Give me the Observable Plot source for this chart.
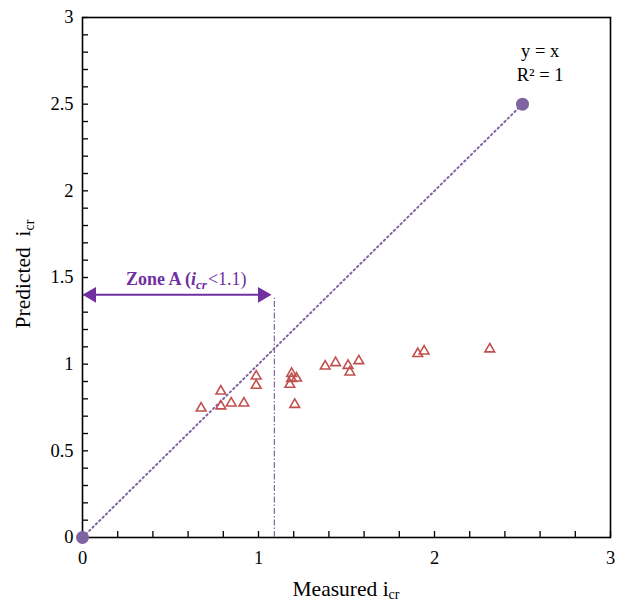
<!DOCTYPE html>
<html><head><meta charset="utf-8">
<script src="https://cdn.jsdelivr.net/npm/d3@7"></script>
<script src="https://cdn.jsdelivr.net/npm/@observablehq/plot@0.6"></script>
<style>body{margin:0;background:#fff;}</style>
</head><body><div id="chart"></div>
<script>
const measured  = [0.674,0.786,0.786,0.845,0.917,0.987,0.987,1.188,1.188,1.178,1.216,1.206,1.379,1.438,1.509,1.519,1.570,1.905,1.941,2.314];
const predicted = [0.746,0.844,0.758,0.775,0.775,0.931,0.877,0.946,0.916,0.883,0.919,0.767,0.988,1.008,0.992,0.954,1.019,1.060,1.075,1.087];
const lineX = [0, 2.5];
const lineY = [0, 2.5];
const xMajor = [0, 1, 2, 3];
const xMinor = [0,0.2,0.4,0.6,0.8,1,1.2,1.4,1.6,1.8,2,2.2,2.4,2.6,2.8,3];
const yMajor = [0, 0.5, 1, 1.5, 2, 2.5, 3];
const yMinor = [0,0.1,0.2,0.3,0.4,0.5,0.6,0.7,0.8,0.9,1,1.1,1.2,1.3,1.4,1.5,1.6,1.7,1.8,1.9,2,2.1,2.2,2.3,2.4,2.5,2.6,2.7,2.8,2.9,3];
const zoneX = 1.09;
const zoneTop = 1.38;
const arrowY = 1.4;
const arrowStart = 0;
const arrowEnd = 1.074;
const eqText = "y = x\nR² = 1";
const eqX = 2.6, eqY = 2.75;
const zoneLabelX = 0.25, zoneLabelY = 1.454;

const serif = "'Liberation Serif', 'Times New Roman', serif";
const purple = "#8064a2";
const darkPurple = "#7030a0";
const red = "#c0504d";

const pts = measured.map((m, i) => ({m, p: predicted[i]}));
const line = lineX.map((x, i) => ({x, y: lineY[i]}));
const fmt = d => String(d);

const plot = Plot.plot({
  width: 618, height: 607,
  marginLeft: 82, marginRight: 8, marginTop: 17, marginBottom: 70,
  style: "font-family: 'Liberation Serif', 'Times New Roman', serif; font-size: 18px; color: black; background: white; overflow: visible;",
  x: {domain: [0, 3]},
  y: {domain: [0, 3]},
  marks: [
    Plot.axisX(xMinor, {tickSize: -6, tickFormat: () => "", strokeWidth: 1.3, label: null}),
    Plot.axisX(xMajor, {tickSize: 0, tickPadding: 13, label: null, fontSize: 18.5, tickFormat: fmt, fill: "black"}),
    Plot.axisY(yMinor, {tickSize: -6, tickFormat: () => "", strokeWidth: 1.3, label: null}),
    Plot.axisY(yMajor, {tickSize: 0, tickPadding: 9, label: null, fontSize: 18.5, tickFormat: fmt, fill: "black"}),
    Plot.frame({stroke: "black", strokeWidth: 1.6}),
    Plot.line(line, {x: "x", y: "y", stroke: purple, strokeWidth: 2, strokeDasharray: "1.5,3.2"}),
    Plot.ruleX([zoneX], {y1: 0, y2: zoneTop, stroke: purple, strokeWidth: 1.2, strokeDasharray: "6,2,1.5,2"}),
    Plot.ruleY([arrowY], {x1: arrowStart, x2: arrowEnd, stroke: darkPurple, strokeWidth: 2, insetLeft: 8, insetRight: 8}),
    Plot.dot([arrowStart], {x: d => d, y: () => arrowY, symbol: "triangle", r: 5.8, fill: darkPurple, rotate: -90, dx: 9}),
    Plot.dot([arrowEnd], {x: d => d, y: () => arrowY, symbol: "triangle", r: 5.8, fill: darkPurple, rotate: 90, dx: -9}),
    Plot.dot(line, {x: "x", y: "y", r: 6.5, fill: purple}),
    Plot.dot(pts, {x: "m", y: "p", symbol: "triangle", r: 3.6, stroke: red, strokeWidth: 1.6, fill: "none"}),
    Plot.text([eqText], {x: () => eqX, y: () => eqY, text: d => d, fontSize: 18.5, lineHeight: 1.3, fill: "black", textAnchor: "middle"})
  ]
});

const svg = d3.select(plot);
svg.selectAll("text").style("font-family", serif);
const sx = plot.scale("x"), sy = plot.scale("y");

// Zone A label
const zt = svg.append("text")
  .attr("x", sx.apply(zoneLabelX)).attr("y", sy.apply(zoneLabelY))
  .attr("text-anchor", "start")
  .attr("fill", darkPurple)
  .style("font-family", serif).style("font-size", "18px");
zt.append("tspan").attr("font-weight", "bold").text("Zone A (");
zt.append("tspan").attr("font-weight", "bold").attr("font-style", "italic").text("i");
zt.append("tspan").attr("font-weight", "bold").attr("font-style", "italic").attr("font-size", "13px").attr("dy", 4).text("cr");
zt.append("tspan").attr("dy", -4).attr("dx", 1).text("<1.1)");

// X axis label
const xl = svg.append("text")
  .attr("x", 346).attr("y", 596)
  .attr("text-anchor", "middle")
  .style("font-family", serif).style("font-size", "21.5px").attr("fill", "black");
xl.append("tspan").text("Measured i");
xl.append("tspan").attr("font-size", "14px").attr("dy", 3).text("cr");

// Y axis label
const yl = svg.append("text")
  .attr("transform", `translate(30,274) rotate(-90)`)
  .attr("text-anchor", "middle")
  .style("font-family", serif).style("font-size", "21.5px").attr("fill", "black");
yl.append("tspan").text("Predicted  i");
yl.append("tspan").attr("font-size", "14px").attr("dy", 4).text("cr");

document.getElementById("chart").appendChild(plot);
</script>
</body></html>
